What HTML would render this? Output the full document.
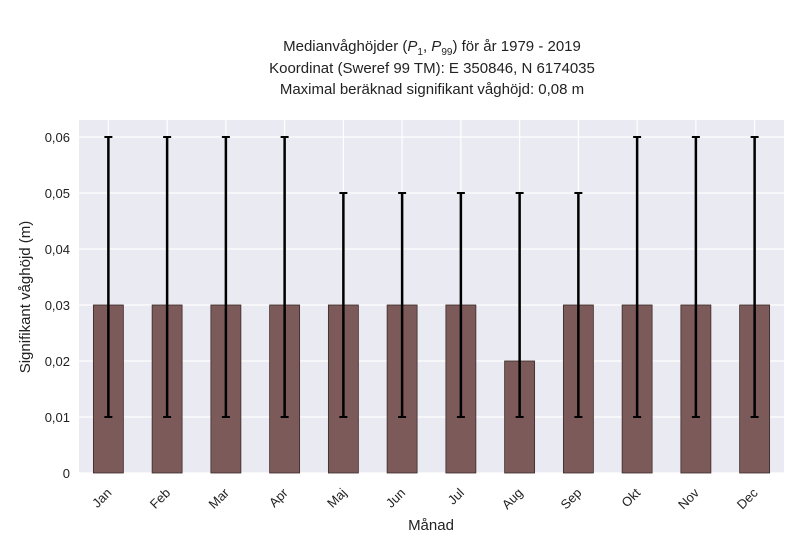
<!DOCTYPE html>
<html><head><meta charset="utf-8"><style>
html,body{margin:0;padding:0;background:#fff;}
svg{display:block;font-family:"Liberation Sans",sans-serif;}
</style></head><body>
<svg id="chart" width="800" height="550">
<text x="432" y="51" text-anchor="middle" font-size="15" fill="#222">Medianvåghöjder (<tspan font-style="italic">P</tspan><tspan font-size="10" dy="4">1</tspan><tspan dy="-4">, </tspan><tspan font-style="italic">P</tspan><tspan font-size="10" dy="4">99</tspan><tspan dy="-4">) för år 1979 - 2019</tspan></text>
<text x="432" y="73" text-anchor="middle" font-size="15" fill="#222">Koordinat (Sweref 99 TM): E 350846, N 6174035</text>
<text x="432" y="94" text-anchor="middle" font-size="15" fill="#222">Maximal beräknad signifikant våghöjd: 0,08 m</text>
<rect x="79" y="120" width="705" height="353" fill="#eaeaf2"/>
<g id="grid"></g><g id="bars"></g><g id="axes"></g>
<text x="431" y="530" text-anchor="middle" font-size="15" fill="#222">Månad</text>
<text transform="translate(30,297) rotate(-90)" text-anchor="middle" font-size="15" fill="#222">Signifikant våghöjd (m)</text>
</svg>
<script>
const months=["Jan","Feb","Mar","Apr","Maj","Jun","Jul","Aug","Sep","Okt","Nov","Dec"];
const medians=[0.03,0.03,0.03,0.03,0.03,0.03,0.03,0.02,0.03,0.03,0.03,0.03];
const upper=[0.06,0.06,0.06,0.06,0.05,0.05,0.05,0.05,0.05,0.06,0.06,0.06];
const lower=[0.01,0.01,0.01,0.01,0.01,0.01,0.01,0.01,0.01,0.01,0.01,0.01];
const yTicks=[0,0.01,0.02,0.03,0.04,0.05,0.06];
const yTickLabels=["0","0,01","0,02","0,03","0,04","0,05","0,06"];
const NS="http://www.w3.org/2000/svg";
const X0=79,X1=784,Y0=473;
const band=(X1-X0)/months.length;
function xc(i){return X0+band*(i+0.5);}
function y(v){return Y0-v*(Y0-137)/0.06;}
function mk(t,a,p){const e=document.createElementNS(NS,t);for(const k in a)e.setAttribute(k,a[k]);p.appendChild(e);return e;}
const grid=document.getElementById('grid'),bars=document.getElementById('bars'),axes=document.getElementById('axes');
yTicks.forEach((v,i)=>{
  const l=mk('line',{x1:X0,x2:X1,y1:y(v),y2:y(v),stroke:'#fff','stroke-width':1.2},grid);
  
  
  const t=mk('text',{x:X0-9,y:y(v)+5,'text-anchor':'end','font-size':13,fill:'#222'},axes);
  t.textContent=yTickLabels[i];
  
  
});
months.forEach((m,i)=>{
  const cx=xc(i);
  const g=mk('line',{x1:cx,x2:cx,y1:120,y2:Y0,stroke:'#fff','stroke-width':1.2},grid);
  
  
  const r=mk('rect',{x:cx-15,y:y(medians[i]),width:30,height:Y0-y(medians[i]),fill:'#7d5a5a',stroke:'#3a2a2a','stroke-width':0.8},bars);
  
  
  const e=mk('line',{x1:cx,x2:cx,y1:y(upper[i]),y2:y(lower[i]),stroke:'#000','stroke-width':2.5},bars);
  
  
  [upper[i],lower[i]].forEach(v=>{
    const c=mk('line',{x1:cx-4,x2:cx+4,y1:y(v),y2:y(v),stroke:'#000','stroke-width':2},bars);
    
    
  });
  const t=mk('text',{x:cx,y:492,'text-anchor':'end','font-size':13,fill:'#222',transform:`rotate(-45 ${cx+4} 488)`},axes);
  t.textContent=m;
  
  
});
</script>
</body></html>
